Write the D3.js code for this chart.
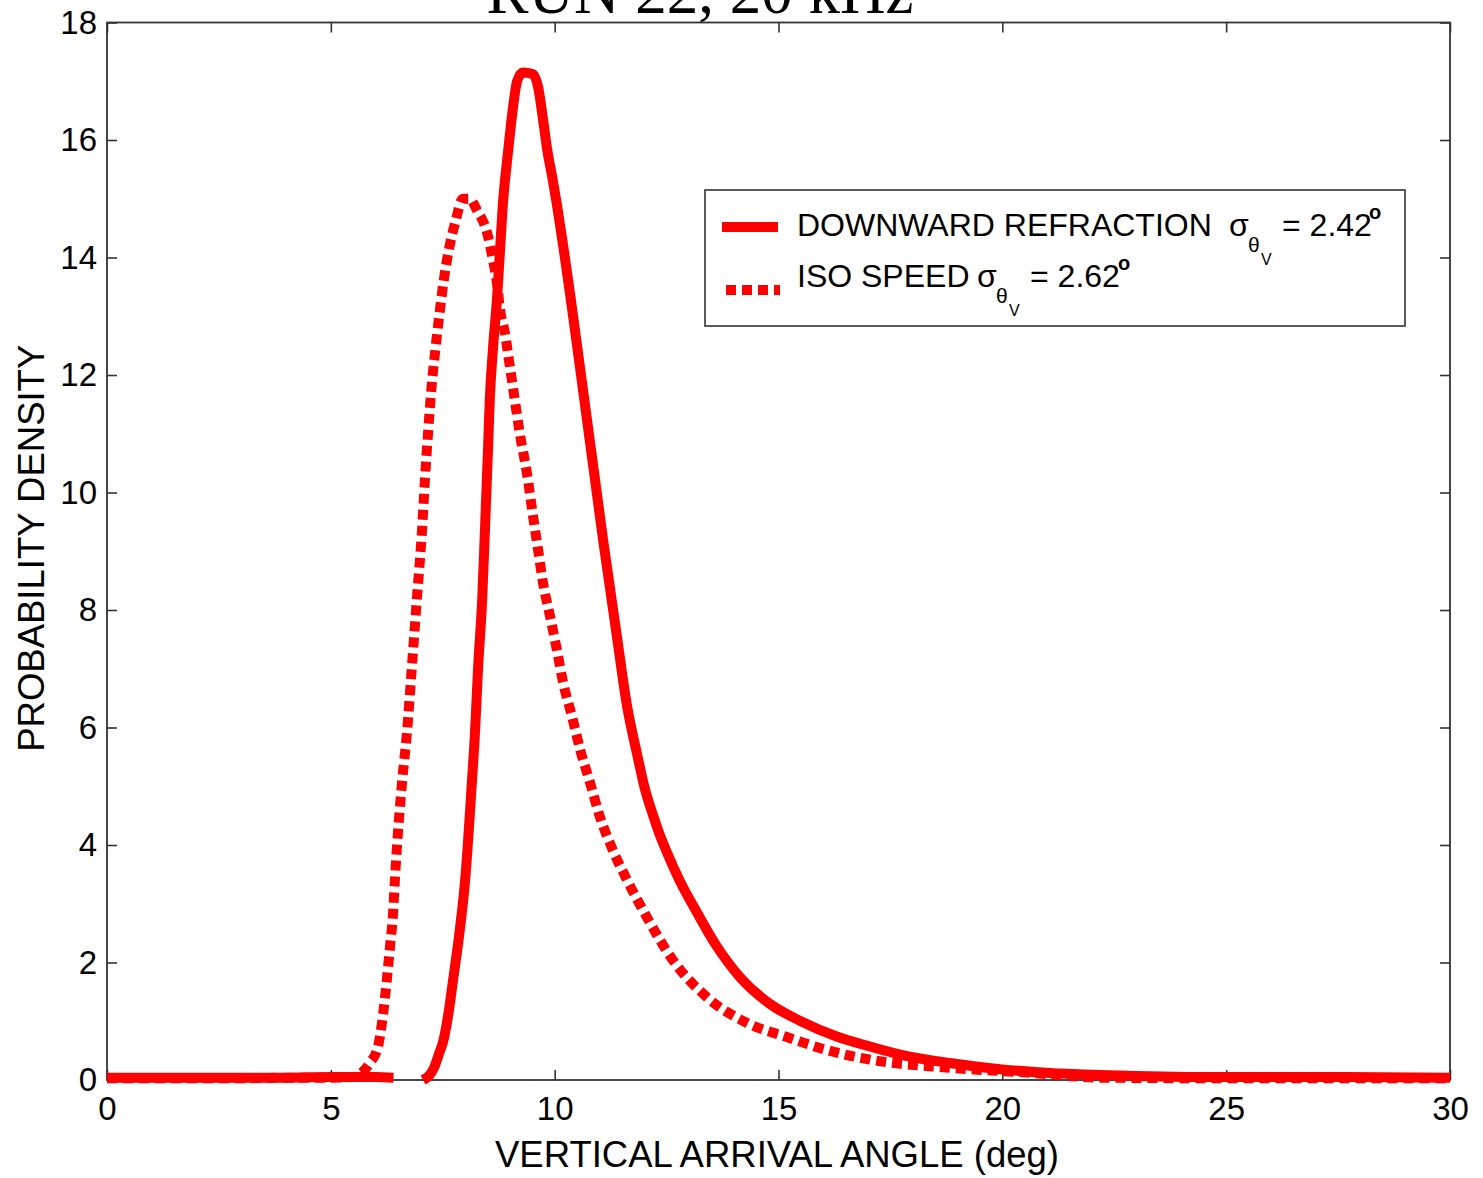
<!DOCTYPE html>
<html>
<head>
<meta charset="utf-8">
<script src="https://cdn.jsdelivr.net/npm/d3@7"></script>
<style>
  html, body { margin: 0; padding: 0; background: #fff; }
  svg { display: block; }
</style>
</head>
<body>
<svg id="chart" width="1483" height="1178"></svg>
<script>
// ---------------- data ----------------
const xTicks = [0, 5, 10, 15, 20, 25, 30];
const yTicks = [0, 2, 4, 6, 8, 10, 12, 14, 16, 18];

const downwardX = [0, 1, 2, 3, 4, 5, 5.5, 6.0, 6.4, 6.45,
  7.06, 7.3, 7.44, 7.5, 7.62, 7.73, 7.88, 8.0, 8.15, 8.22, 8.29, 8.38, 8.44, 8.51, 8.55,
  8.62, 8.71, 8.78, 8.85, 8.93, 9.0, 9.07, 9.16, 9.29, 9.52, 9.63, 9.74, 9.83, 9.95,
  10.05, 10.19, 10.34, 10.5, 10.65, 10.79, 10.94, 11.08, 11.24, 11.39, 11.62, 11.84,
  12.0, 12.2, 12.35, 12.51, 12.8, 13.18, 13.6, 14.14, 14.8, 15.5, 16.3, 17.0, 17.8,
  18.9, 20.0, 21.06, 22, 23, 25, 27, 30];
const downwardY = [0.04, 0.04, 0.04, 0.04, 0.04, 0.05, 0.05, 0.05, 0.04, null,
  0.0, 0.2, 0.5, 0.63, 1.1, 1.7, 2.55, 3.4, 5.06, 5.91, 7.03, 8.17, 9.31, 10.72, 11.57,
  12.43, 13.28, 14.13, 14.98, 15.6, 16.1, 16.56, 17.0, 17.15, 17.12, 16.9, 16.35, 15.85, 15.35,
  14.9, 14.2, 13.4, 12.5, 11.65, 10.85, 10.0, 9.2, 8.35, 7.55, 6.35, 5.55,
  5.0, 4.5, 4.17, 3.87, 3.38, 2.85, 2.3, 1.75, 1.3, 1.0, 0.74, 0.58, 0.42,
  0.28, 0.18, 0.12, 0.09, 0.07, 0.05, 0.05, 0.04];

const isoX = [0, 1, 2, 3, 4, 5, 5.5, 5.65, 5.87, 6.05, 6.17, 6.25, 6.32, 6.39, 6.43,
  6.59, 6.7, 6.81, 6.92, 7.04, 7.1, 7.17, 7.25, 7.33, 7.42, 7.52, 7.64, 7.78,
  7.95, 8.1, 8.26, 8.49, 8.62, 8.71, 8.78, 8.89, 9.0, 9.11, 9.22, 9.38, 9.52, 9.63,
  9.74, 9.9, 10.05, 10.19, 10.39, 10.57, 10.79, 11.01, 11.3, 11.62, 12.06, 12.64,
  13.4, 14.3, 15.19, 16.08, 17.1, 18.6, 19.57, 20.68, 21.5, 22.2, 25, 30];
const isoY = [0.03, 0.03, 0.03, 0.03, 0.04, 0.04, 0.05, 0.1, 0.29, 0.56, 1.14, 1.7, 2.26, 2.84, 3.4,
  5.06, 5.91, 7.03, 8.17, 9.4, 10.2, 11.0, 11.8, 12.4, 13.0, 13.6, 14.15, 14.6,
  15.0, 15.0, 14.81, 14.42, 13.96, 13.57, 13.11, 12.71, 12.14, 11.57, 11.01, 10.33, 9.58, 9.02,
  8.46, 7.88, 7.32, 6.76, 6.18, 5.62, 5.06, 4.48, 3.91, 3.4, 2.77, 2.04,
  1.41, 0.97, 0.73, 0.51, 0.34, 0.22, 0.17, 0.12, 0.07, 0.04, 0.03, 0.03];

const titleText = "RUN 22, 20 kHz";
const xLabel = "VERTICAL ARRIVAL ANGLE (deg)";
const yLabel = "PROBABILITY DENSITY";

// ---------------- layout ----------------
const svg = d3.select("#chart");
const mL = 107, mR = 1450, mT = 22.5, mB = 1080;
const red = "#ff0000";
const axisColor = "#333";
const sans = "'Liberation Sans', Arial, sans-serif";

const x = d3.scaleLinear().domain([0, 30]).range([mL, mR]);
const y = d3.scaleLinear().domain([0, 18]).range([mB, mT]);

// frame
svg.append("rect")
  .attr("x", mL).attr("y", mT)
  .attr("width", mR - mL).attr("height", mB - mT)
  .attr("fill", "none").attr("stroke", axisColor).attr("stroke-width", 1.8);

function styleAxis(g, labels) {
  g.select(".domain").remove();
  g.selectAll(".tick line").attr("stroke", axisColor).attr("stroke-width", 1.6);
  g.selectAll(".tick text")
    .attr("fill", "#000")
    .style("font-family", sans)
    .style("font-size", "33px");
  if (!labels) g.selectAll(".tick text").remove();
}

svg.append("g").attr("transform", `translate(0,${mB})`)
  .call(d3.axisBottom(x).tickValues(xTicks).tickSize(-10).tickSizeOuter(0).tickPadding(17))
  .call(g => styleAxis(g, true));
svg.append("g").attr("transform", `translate(0,${mT})`)
  .call(d3.axisTop(x).tickValues(xTicks).tickSize(-10).tickSizeOuter(0))
  .call(g => styleAxis(g, false));
svg.append("g").attr("transform", `translate(${mL},0)`)
  .call(d3.axisLeft(y).tickValues(yTicks).tickSize(-10).tickSizeOuter(0).tickPadding(10))
  .call(g => styleAxis(g, true));
svg.append("g").attr("transform", `translate(${mR},0)`)
  .call(d3.axisRight(y).tickValues(yTicks).tickSize(-10).tickSizeOuter(0))
  .call(g => styleAxis(g, false));

// curves
const line = d3.line()
  .defined(d => d[1] !== null)
  .curve(d3.curveMonotoneX)
  .x(d => x(d[0])).y(d => y(d[1]));

const isoData = isoX.map((v, i) => [v, isoY[i]]);
const downData = downwardX.map((v, i) => [v, downwardY[i]]);

svg.append("path").datum(isoData)
  .attr("d", line).attr("fill", "none")
  .attr("stroke", red).attr("stroke-width", 10)
  .attr("stroke-dasharray", "10,6");
svg.append("path").datum(downData)
  .attr("d", line).attr("fill", "none")
  .attr("stroke", red).attr("stroke-width", 10)
  .attr("stroke-linejoin", "round");

// title
svg.append("text")
  .attr("x", 700).attr("y", 13)
  .attr("text-anchor", "middle")
  .style("font-family", "'Liberation Serif', 'Times New Roman', serif")
  .style("font-size", "63px")
  .text(titleText);

// axis labels
svg.append("text")
  .attr("x", 777).attr("y", 1167)
  .attr("text-anchor", "middle")
  .style("font-family", sans).style("font-size", "36.5px")
  .text(xLabel);
svg.append("text")
  .attr("transform", `translate(44,${(mT + mB) / 2 - 3}) rotate(-90)`)
  .attr("text-anchor", "middle")
  .style("font-family", sans).style("font-size", "36.5px")
  .text(yLabel);

// legend
const lg = svg.append("g");
lg.append("rect")
  .attr("x", 705).attr("y", 190).attr("width", 700).attr("height", 136)
  .attr("fill", "#fff").attr("stroke", axisColor).attr("stroke-width", 1.6);
lg.append("line").attr("x1", 722).attr("x2", 778).attr("y1", 227).attr("y2", 227)
  .attr("stroke", red).attr("stroke-width", 10);
lg.append("line").attr("x1", 726).attr("x2", 780).attr("y1", 290).attr("y2", 290)
  .attr("stroke", red).attr("stroke-width", 10).attr("stroke-dasharray", "10,6");

function lt(xp, yp, txt, size, weight) {
  lg.append("text").attr("x", xp).attr("y", yp)
    .style("font-family", sans).style("font-size", size + "px")
    .style("font-weight", weight || "normal")
    .text(txt);
}
lt(797, 236, "DOWNWARD REFRACTION", 32);
lt(1229, 236, "σ", 32);
lt(1248, 252, "θ", 21);
lt(1261, 265, "V", 16);
lt(1282, 236, "= 2.42", 32);
lt(1369, 219, "o", 20, "bold");

lt(797, 287, "ISO SPEED", 32);
lt(977, 287, "σ", 32);
lt(996, 303, "θ", 21);
lt(1009, 316, "V", 16);
lt(1030, 287, "= 2.62", 32);
lt(1118, 270, "o", 20, "bold");
</script>
</body>
</html>
